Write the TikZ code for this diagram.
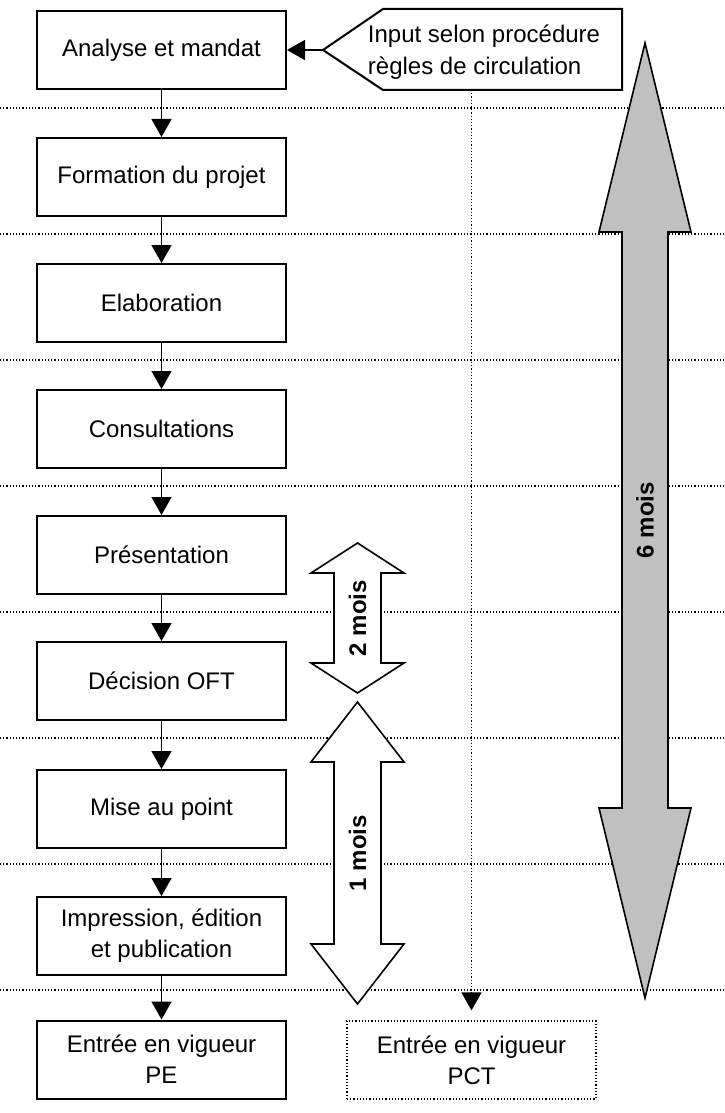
\documentclass[tikz,border=0pt]{standalone}
\usepackage{fontspec}
\setmainfont{Liberation Sans}
\usetikzlibrary{arrows.meta}
\definecolor{spangray}{HTML}{C0C0C0}

\tikzset{
  stage/.style={draw,line width=1pt,minimum width=124.5pt,minimum height=39pt,inner sep=0pt,align=center,font=\fontsize{12}{15.5}\selectfont},
  flow/.style={line width=0.8pt,-{Triangle[length=9pt,width=10pt]}},
  grid line/.style={line width=0.6pt,dash pattern=on 0.6pt off 1pt},
  span/.style={draw,line width=0.8pt,line join=miter,fill=white},
  spanlabel/.style={rotate=90,font=\fontsize{12}{14}\selectfont\bfseries}
}

\begin{document}
\begin{tikzpicture}[x=0.5pt,y=-0.5pt]
\useasboundingbox (0,0) rectangle (724,1113);
% separators
\foreach \y in {108,234,...,990} \draw[grid line] (0,\y)--(724,\y);

% durations
\draw[span,fill=spangray](645,43)--(691,232)--(668,232)--(668,808)--(691,808)--(645,998)--(599,808)--(622,808)--(622,232)--(599,232)--cycle;
\node[spanlabel] (six) at (645,520) {6 mois};
\draw[span](357.5,543)--(404,573)--(381,573)--(381,663)--(404,663)--(357.5,693)--(311,663)--(334,663)--(334,573)--(311,573)--cycle;
\node[spanlabel] (two) at (357.5,618) {2 mois};
\draw[span](357.5,702)--(404,762)--(381,762)--(381,944)--(404,944)--(357.5,1004)--(311,944)--(334,944)--(334,762)--(311,762)--cycle;
\node[spanlabel] (one) at (357.5,853) {1 mois};

% stages
\node[stage] (analyse) at (161.5,50) {Analyse et mandat};
\node[stage] (formation) at (161.5,177) {Formation du projet};
\node[stage] (elaboration) at (161.5,303) {Elaboration};
\node[stage] (consultations) at (161.5,429) {Consultations};
\node[stage] (presentation) at (161.5,555) {Présentation};
\node[stage] (decision) at (161.5,681) {Décision OFT};
\node[stage] (miseaupoint) at (161.5,809) {Mise au point};
\node[stage] (impression) at (161.5,936) {Impression, édition\\et publication};
\node[stage] (pe) at (161.5,1059.5) {Entrée en vigueur\\PE};
\node[stage,grid line] (pct) at (471.5,1060) {Entrée en vigueur\\PCT};

\foreach \a/\b in {analyse/formation,formation/elaboration,elaboration/consultations,consultations/presentation,presentation/decision,decision/miseaupoint,miseaupoint/impression,impression/pe}
  \draw[flow] (\a) -- (\b);

% input
\draw[line width=1pt,line join=miter](323,50)--(383,9)--(622,9)--(622,90)--(383,90)--cycle;
\coordinate (inptip) at (323,50);
\coordinate (inpbot) at (471.5,90);
\node[align=left,font=\fontsize{12}{16}\selectfont] (input) at (484,52) {Input selon procédure\\règles de circulation};
\draw[flow] (inptip) -- (analyse.east);
\draw[flow,grid line,shorten >=5pt] (inpbot) -- (pct.north);
\end{tikzpicture}
\end{document}
